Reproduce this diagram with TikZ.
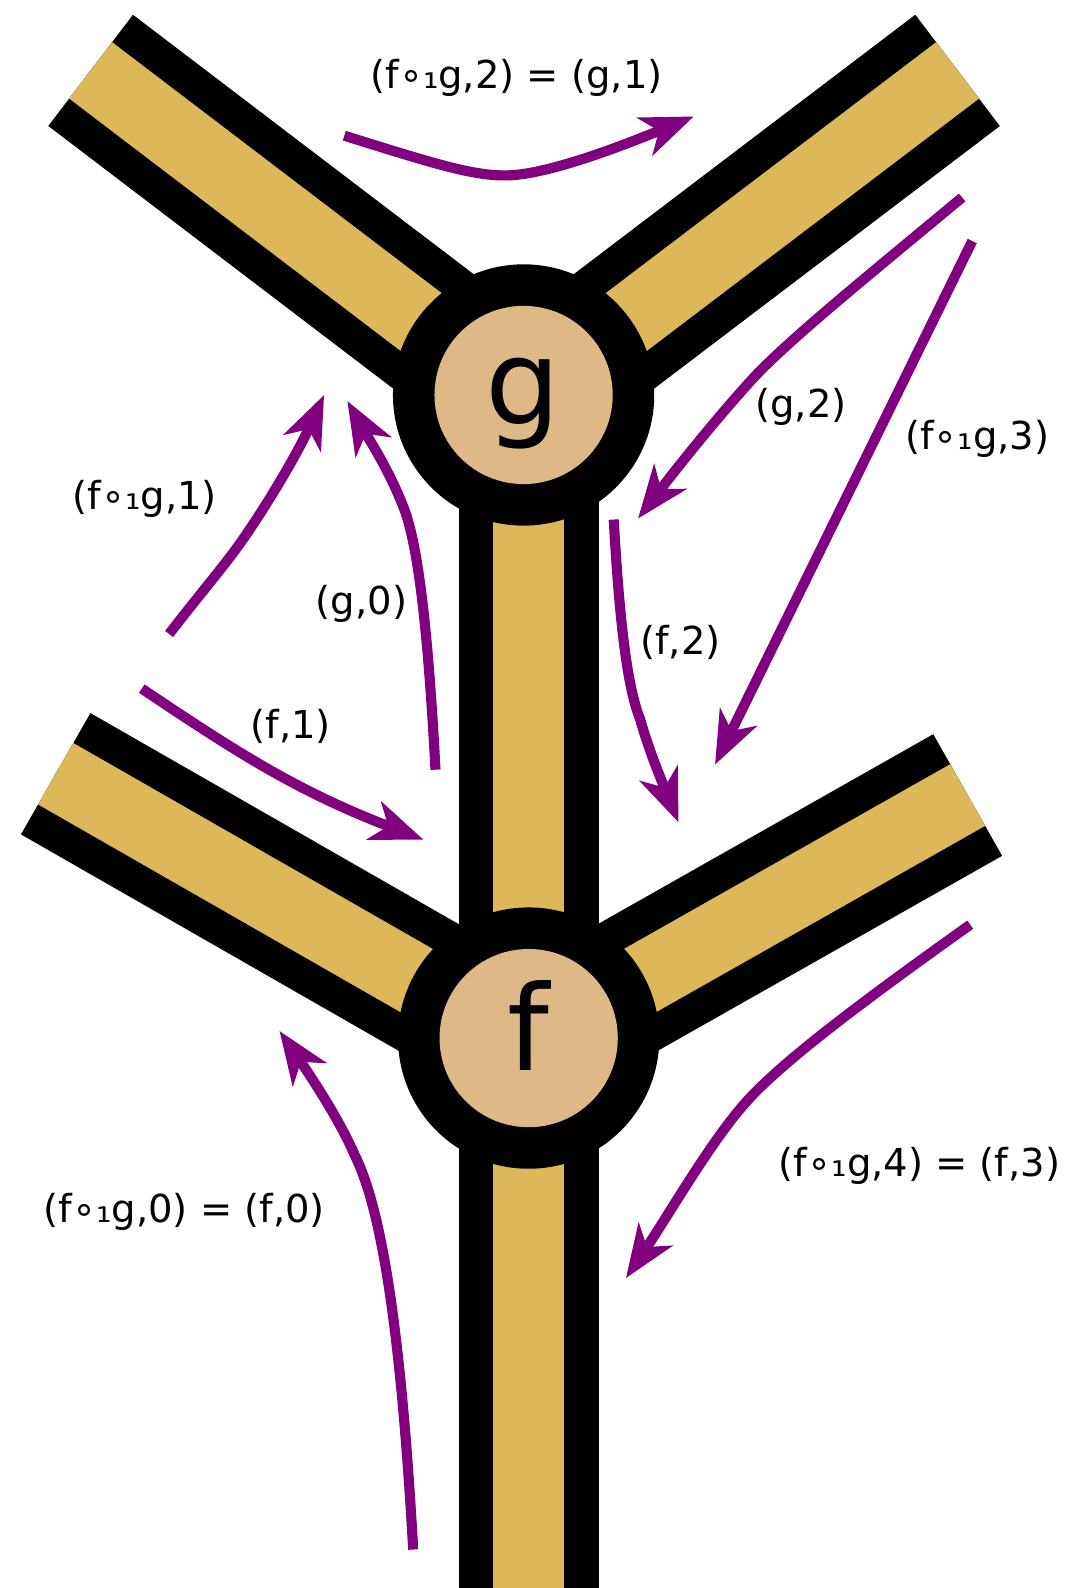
\documentclass[tikz,border=0pt]{standalone}
\usepackage{fontspec}
\setmainfont{DejaVu Sans}
\usetikzlibrary{arrows.meta}
\definecolor{armtan}{HTML}{DDB85A}
\definecolor{disctan}{HTML}{DEB887}
\definecolor{flowpurple}{HTML}{800080}
\tikzset{
  armblack/.style={line width=138pt, line cap=butt, draw=black},
  armfill/.style={line width=70pt, line cap=butt, draw=armtan},
  outerdisc/.style={circle, fill=black, minimum size=258pt, inner sep=0pt},
  innerdisc/.style={circle, fill=disctan, minimum size=176pt, inner sep=0pt},
  bigletter/.style={inner sep=0pt, font=\fontsize{117}{130}\selectfont},
  lbl/.style={inner sep=0pt, font=\fontsize{38}{44}\selectfont},
  flow/.style={draw=flowpurple, line width=10pt, -{Stealth[length=52pt,width=40pt,inset=15pt]}}
}
\begin{document}
\begin{tikzpicture}[x=1pt,y=-1pt]
\useasboundingbox (0,0) rectangle (1056,1568);
% arm anchor points
\coordinate (ga) at (517,395);
\coordinate (gtl) at (89.5,69.5);
\coordinate (gtr) at (945.5,69.5);
\coordinate (stemtop) at (522,390);
\coordinate (stembot) at (522,1600);
\coordinate (fa) at (521,1031);
\coordinate (fl) at (55,764);
\coordinate (fr) at (955.5,785);
% black bands
\draw[armblack] (ga) -- (gtl);
\draw[armblack] (ga) -- (gtr);
\draw[armblack] (stemtop) -- (stembot);
\draw[armblack] (fa) -- (fl);
\draw[armblack] (fa) -- (fr);
% tan fill
\draw[armfill] (ga) -- (gtl);
\draw[armfill] (ga) -- (gtr);
\draw[armfill] (stemtop) -- (stembot);
\draw[armfill] (fa) -- (fl);
\draw[armfill] (fa) -- (fr);
% discs
\node[outerdisc] (gout) at (517,390) {};
\node[innerdisc] (gin) at (517,390) {};
\node[bigletter, anchor=base] (gtext) at (517,419) {g};
\node[outerdisc] (fout) at (522,1025) {};
\node[innerdisc] (fin) at (522,1025) {};
\node[bigletter, anchor=base] (ftext) at (522,1057) {f};
% labels
\node[lbl] (l21) at (510,77) {(f∘₁g,2) = (g,1)};
\node[lbl] (lg2) at (791,402) {(g,2)};
\node[lbl] (l3) at (965,433) {(f∘₁g,3)};
\node[lbl] (l1) at (143,493) {(f∘₁g,1)};
\node[lbl] (lg0) at (357,596) {(g,0)};
\node[lbl] (lf2) at (672,634) {(f,2)};
\node[lbl] (lf1) at (287,717) {(f,1)};
\node[lbl] (l4) at (908,1151) {(f∘₁g,4) = (f,3)};
\node[lbl] (l0) at (182,1197) {(f∘₁g,0) = (f,0)};
% arrow endpoints
\coordinate (a1s) at (340,134);  \coordinate (a1e) at (685,115);
\coordinate (a2s) at (950,195);  \coordinate (a2e) at (630,512);
\coordinate (a3s) at (960,238);  \coordinate (a3e) at (706,755);
\coordinate (a4s) at (167,626);  \coordinate (a4e) at (320,390);
\coordinate (a5s) at (430,760);  \coordinate (a5e) at (343,396);
\coordinate (a6s) at (606,513);  \coordinate (a6e) at (670,812);
\coordinate (a7s) at (140,680);  \coordinate (a7e) at (418,829);
\coordinate (a8s) at (958,913);  \coordinate (a8e) at (618,1262);
\coordinate (a9s) at (408,1530); \coordinate (a9e) at (276,1018);
% arrows
\draw[flow] (a1s) .. controls (430,162) and (470,175) .. (505,173) .. controls (540,171) and (600,150) .. (a1e);
\draw[flow] (a2s) .. controls (850,278) and (780,335) .. (745,372) .. controls (710,410) and (670,460) .. (a2e);
\draw[flow] (a3s) -- (a3e);
\draw[flow] (a4s) .. controls (200,583) and (225,555) .. (245,525) .. controls (270,488) and (295,445) .. (a4e);
\draw[flow] (a5s) .. controls (422,610) and (412,540) .. (400,505) .. controls (385,465) and (365,435) .. (a5e);
\draw[flow] (a6s) .. controls (612,620) and (620,680) .. (632,710) .. controls (642,745) and (655,775) .. (a6e);
\draw[flow] (a7s) .. controls (230,740) and (290,780) .. (a7e);
\draw[flow] (a8s) .. controls (850,990) and (770,1050) .. (735,1090) .. controls (700,1130) and (660,1200) .. (a8e);
\draw[flow] (a9s) .. controls (395,1300) and (375,1190) .. (350,1140) .. controls (335,1105) and (305,1060) .. (a9e);
\end{tikzpicture}
\end{document}
